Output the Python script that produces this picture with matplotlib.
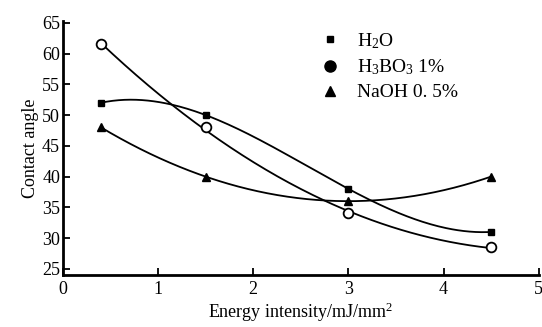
import numpy as np
import matplotlib.pyplot as plt
from matplotlib.lines import Line2D

plt.rcParams['font.family'] = ['Liberation Serif', 'DejaVu Serif']
plt.rcParams['mathtext.fontset'] = 'custom'
plt.rcParams['mathtext.rm'] = 'Liberation Serif'
plt.rcParams['mathtext.it'] = 'Liberation Serif:italic'

# data
energy = [0.4, 1.5, 3.0, 4.5]
h2o = [52, 50, 38, 31]
h3bo3 = [61.5, 48, 34, 28.5]
naoh = [48, 40, 36, 40]

x_ticks = [0, 1, 2, 3, 4, 5]
y_ticks = [25, 30, 35, 40, 45, 50, 55, 60, 65]

fig = plt.figure(figsize=(5.42, 3.27), dpi=100)
ax = fig.add_axes([0.116, 0.159, 0.878, 0.777])

# smooth trend curves (cubic for water, quadratic for the others)
xs = np.linspace(energy[0], energy[-1], 200)
for vals, deg in ((h2o, 3), (h3bo3, 2), (naoh, 2)):
    coef = np.polyfit(energy, vals, deg)
    ax.plot(xs, np.polyval(coef, xs), color='black', lw=1.3)

ax.plot(energy, h2o, 's', color='black', ms=5)
ax.plot(energy, h3bo3, 'o', mfc='white', mec='black', mew=1.3, ms=7)
ax.plot(energy, naoh, '^', color='black', ms=6)

ax.set_xlim(0, 5)
ax.set_ylim(24, 65.3)
ax.set_xticks(x_ticks)
ax.set_yticks(y_ticks)
ax.tick_params(direction='in', length=5, width=1.3, labelsize=13)
ax.tick_params(axis='x', pad=4)
ax.tick_params(axis='y', pad=2)
for s in ('top', 'right'):
    ax.spines[s].set_visible(False)
for s in ('left', 'bottom'):
    ax.spines[s].set_linewidth(2)

ax.set_xlabel('Energy intensity/mJ/mm$^2$', fontsize=13, labelpad=2)
ax.set_ylabel('Contact angle', fontsize=13, labelpad=2)

handles = [
    Line2D([], [], ls='none', marker='s', color='black', ms=5),
    Line2D([], [], ls='none', marker='o', color='black', ms=8),
    Line2D([], [], ls='none', marker='^', color='black', ms=7),
]
labels = ['H$_2$O', 'H$_3$BO$_3$ 1%', 'NaOH 0. 5%']
ax.legend(handles, labels, loc='upper left', bbox_to_anchor=(0.5, 1.03),
          frameon=False, fontsize=14, handletextpad=0.8, labelspacing=0.35,
          handlelength=1.2)

fig.savefig('out.png', dpi=100)
